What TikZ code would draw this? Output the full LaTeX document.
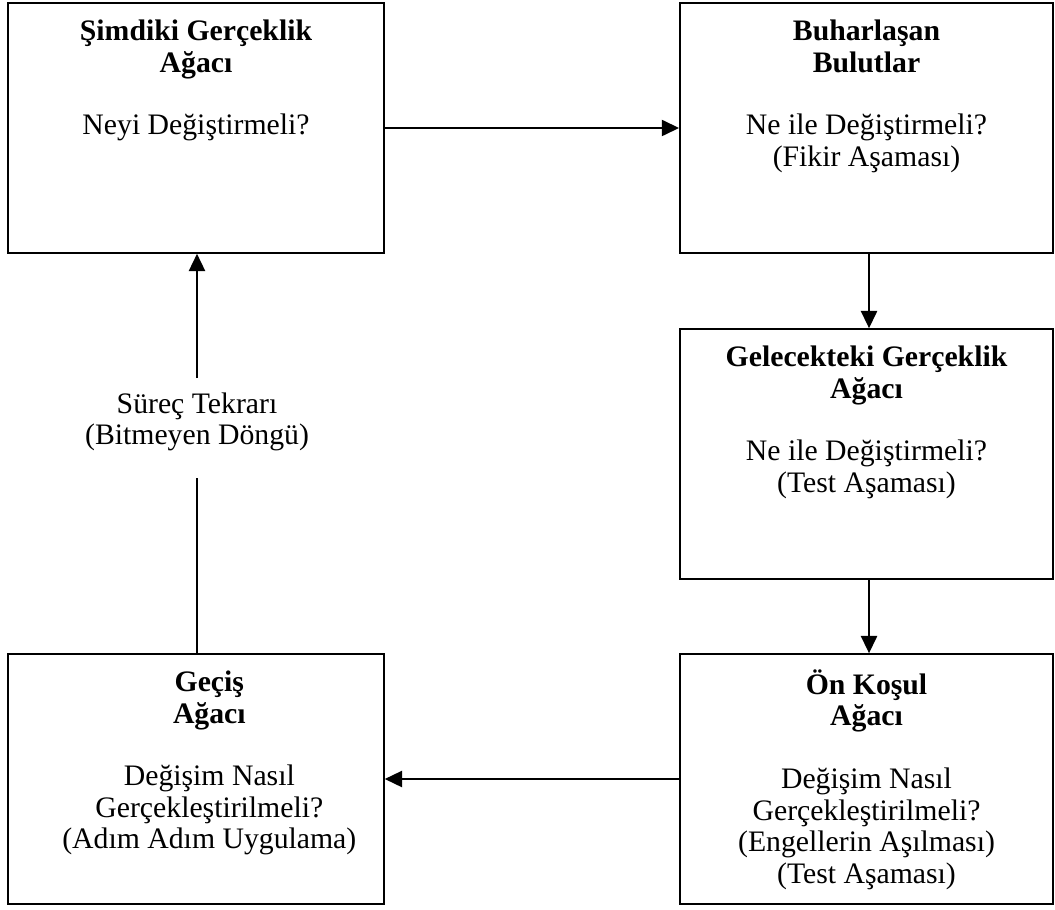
\documentclass[tikz,border=0pt]{standalone}
\usepackage{fontspec}
\setmainfont{Liberation Serif}
\usetikzlibrary{arrows.meta}
\begin{document}
\begin{tikzpicture}[x=0.75pt,y=-0.75pt,
  box/.style={draw, line width=1.1pt, minimum width=282pt, minimum height=187.5pt, inner sep=0pt},
  rbox/.style={box, minimum width=280pt},
  txt/.style={align=center, inner sep=0pt, anchor=north, font=\fontsize{22.3}{23.6}\selectfont},
  arr/.style={line width=1.8pt, -{Triangle[length=13pt,width=12pt]}},
  thinline/.style={line width=0.8pt}]
\useasboundingbox (0,0) rectangle (1055,909);
\node[box] (b1) at (196,128) {};
\node[rbox] (b2) at (866.5,128) {};
\node[rbox] (b3) at (866.5,454) {};
\node[rbox] (b4) at (866.5,779) {};
\node[box] (b5) at (196,779) {};
\node[txt] (t1) at ([yshift=-12pt]b1.north) {\strut\textbf{Şimdiki Gerçeklik}\\\textbf{Ağacı}\\[23.6pt]Neyi Değiştirmeli?};
\node[txt] (t2) at ([yshift=-12pt]b2.north) {\strut\textbf{Buharlaşan}\\\textbf{Bulutlar}\\[23.6pt]Ne ile Değiştirmeli?\\(Fikir Aşaması)};
\node[txt] (t3) at ([yshift=-12pt]b3.north) {\strut\textbf{Gelecekteki Gerçeklik}\\\textbf{Ağacı}\\[23.6pt]Ne ile Değiştirmeli?\\(Test Aşaması)};
\node[txt] (t4) at ([yshift=-12pt]b4.north) {\strut\textbf{Ön Koşul}\\\textbf{Ağacı}\\[23.6pt]Değişim Nasıl\\Gerçekleştirilmeli?\\(Engellerin Aşılması)\\(Test Aşaması)};
\node[txt] (t5) at ([xshift=10pt,yshift=-12pt]b5.north) {\strut\textbf{Geçiş}\\\textbf{Ağacı}\\[23.6pt]Değişim Nasıl\\Gerçekleştirilmeli?\\(Adım Adım Uygulama)};
\node[txt] (lbl) at (197,378) {\rule{0pt}{26.25pt}Süreç Tekrarı\\(Bitmeyen Döngü)\rule[-25pt]{0pt}{25pt}};
\draw[arr] (b1.east) -- (b2.west);
\draw[arr] ([xshift=1.9pt]b2.south) -- ([xshift=1.9pt]b3.north);
\draw[arr] ([xshift=1.9pt]b3.south) -- ([xshift=1.9pt]b4.north);
\draw[arr] (b4.west) -- (b5.east);
\draw[thinline] (b5.north -| lbl.south) -- (lbl.south);
\draw[arr] (lbl.north) -- (lbl.north |- b1.south);
\end{tikzpicture}
\end{document}
